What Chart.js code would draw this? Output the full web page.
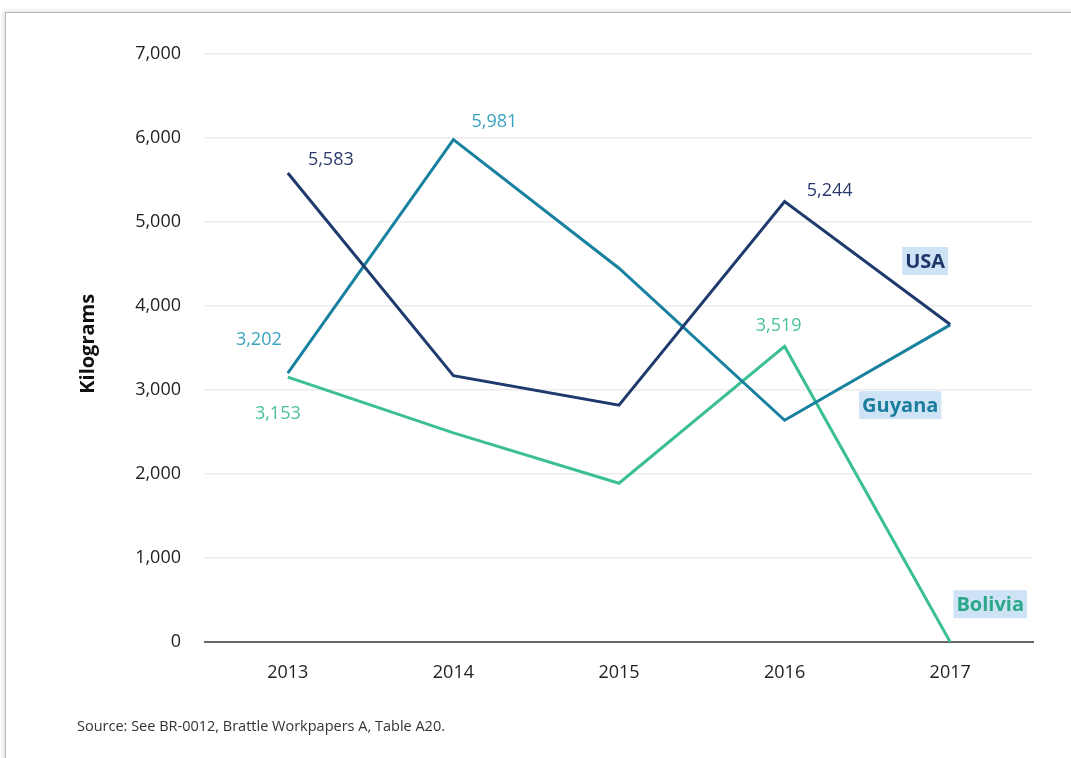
<!DOCTYPE html>
<html>
<head>
<meta charset="utf-8">
<script src="https://cdn.jsdelivr.net/npm/chart.js@4/dist/chart.umd.min.js"></script>
<style>
    html, body { margin: 0; padding: 0; background: #fff; }
    #wrap { position: relative; width: 1071px; height: 758px; overflow: hidden; }
    #frame {
        position: absolute; left: 5px; top: 12px; width: 1100px; height: 800px;
        border-top: 1px solid #b8b8b8; border-left: 1px solid #b8b8b8;
        box-shadow: -2px -1px 4px rgba(0,0,0,0.12);
    }
    canvas { position: absolute; left: 0; top: 0; }
</style>
</head>
<body>
<div id="wrap">
    <div id="frame"></div>
    <canvas id="chart" width="1071" height="758"></canvas>
</div>
<script>
const years = ['2013', '2014', '2015', '2016', '2017'];
const usaValues = [5583, 3170, 2820, 5244, 3780];
const guyanaValues = [3202, 5981, 4450, 2640, 3775];
const boliviaValues = [3153, 2490, 1890, 3519, 0];
const yTicks = [0, 1000, 2000, 3000, 4000, 5000, 6000, 7000];

const FONT = '"Open Sans", sans-serif';

// value labels: dataset index, point index, pixel offset from the point, colour
const valueLabels = [
    { ds: 0, i: 0, dx: 43, dy: -13, color: '#2b3a6b' },
    { ds: 0, i: 3, dx: 45, dy: -11, color: '#2b3a6b' },
    { ds: 1, i: 0, dx: -29, dy: -33, color: '#3aa3bf' },
    { ds: 1, i: 1, dx: 41, dy: -18, color: '#3aa3bf' },
    { ds: 2, i: 0, dx: -10, dy: 37, color: '#49c297' },
    { ds: 2, i: 3, dx: -6, dy: -21, color: '#49c297' }
];

// series names placed near the right end
const seriesNames = [
    { text: 'USA', value: 4536, dx: -25, color: '#1e3769' },
    { text: 'Guyana', value: 2820, dx: -50, color: '#1b7d9c' },
    { text: 'Bolivia', value: 450, dx: 40, color: '#2aa98a' }
];

const labelPlugin = {
    id: 'labelPlugin',
    afterDatasetsDraw(chart) {
        const ctx = chart.ctx;
        ctx.save();
        ctx.textAlign = 'center';
        ctx.textBaseline = 'middle';

        ctx.font = '18px ' + FONT;
        valueLabels.forEach(l => {
            const pt = chart.getDatasetMeta(l.ds).data[l.i];
            const v = chart.data.datasets[l.ds].data[l.i];
            ctx.fillStyle = l.color;
            ctx.fillText(v.toLocaleString('en-US'), pt.x + l.dx, pt.y + l.dy);
        });

        const xs = chart.scales.x;
        const ys = chart.scales.y;
        ctx.font = 'bold 20px ' + FONT;
        seriesNames.forEach(s => {
            const x = xs.getPixelForValue(years.length - 1) + s.dx;
            const y = ys.getPixelForValue(s.value);
            const w = ctx.measureText(s.text).width + 6;
            ctx.fillStyle = '#cfe3f6';
            ctx.fillRect(x - w / 2, y - 14, w, 28);
            ctx.fillStyle = s.color;
            ctx.fillText(s.text, x, y + 1);
        });

        // axis title
        ctx.save();
        ctx.translate(88, ys.getPixelForValue(3550));
        ctx.rotate(-Math.PI / 2);
        ctx.font = 'bold 20px ' + FONT;
        ctx.fillStyle = '#111';
        ctx.fillText('Kilograms', 0, 0);
        ctx.restore();

        // source note
        ctx.textAlign = 'left';
        ctx.font = '14.5px ' + FONT;
        ctx.fillStyle = '#333';
        ctx.fillText('Source: See BR-0012, Brattle Workpapers A, Table A20.', 77, 727);
        ctx.restore();
    }
};

new Chart(document.getElementById('chart'), {
    type: 'line',
    data: {
        labels: years,
        datasets: [
            { label: 'USA', data: usaValues, borderColor: '#1f3a6d', borderWidth: 3 },
            { label: 'Guyana', data: guyanaValues, borderColor: '#17819f', borderWidth: 3 },
            { label: 'Bolivia', data: boliviaValues, borderColor: '#3cc091', borderWidth: 3 }
        ]
    },
    options: {
        responsive: false,
        animation: false,
        events: [],
        elements: {
            point: { radius: 0 },
            line: { tension: 0, borderJoinStyle: 'miter' }
        },
        layout: { padding: { top: 54, right: 38, left: 0, bottom: 0 } },
        plugins: {
            legend: { display: false },
            tooltip: { enabled: false }
        },
        scales: {
            x: {
                offset: true,
                grid: { display: false, drawTicks: false },
                border: { display: true, color: '#666', width: 2 },
                ticks: { padding: 20, color: '#222', font: { family: FONT, size: 18 } },
                afterFit: scale => { scale.height = 116; }
            },
            y: {
                min: 0,
                max: 7000,
                afterBuildTicks: scale => { scale.ticks = yTicks.map(v => ({ value: v })); },
                grid: { color: '#ececec', lineWidth: 1.5, drawTicks: false },
                border: { display: false },
                ticks: {
                    padding: 24,
                    color: '#222',
                    font: { family: FONT, size: 18 },
                    callback: v => v.toLocaleString('en-US')
                },
                afterFit: scale => { scale.width = 205; }
            }
        }
    },
    plugins: [labelPlugin]
});
</script>
</body>
</html>
